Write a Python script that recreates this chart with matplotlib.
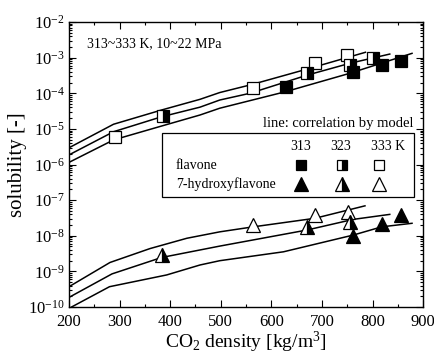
import matplotlib
matplotlib.use("Agg")
import matplotlib.pyplot as plt
import numpy as np
from matplotlib.patches import Rectangle
from matplotlib.ticker import LogLocator, MultipleLocator, LogFormatterSciNotation, NullFormatter

plt.rcParams['font.family'] = ['Liberation Serif', 'DejaVu Serif']
plt.rcParams['mathtext.fontset'] = 'custom'
plt.rcParams['mathtext.rm'] = 'Liberation Serif'
plt.rcParams['mathtext.it'] = 'Liberation Serif:italic'

# ---- data: flavone ----
fl313_x = [629, 762, 818, 856]
fl313_y = [1.47e-4, 4.0e-4, 6.2e-4, 8.0e-4]
fl323_x = [386, 671, 755, 801]
fl323_y = [2.3e-5, 3.6e-4, 6.2e-4, 1.0e-3]
fl333_x = [290, 563, 686, 749]
fl333_y = [5.8e-6, 1.38e-4, 6.9e-4, 1.22e-3]

# ---- data: 7-hydroxyflavone ----
hf313_x = [762, 818, 856]
hf313_y = [1.0e-8, 2.2e-8, 3.8e-8]
hf323_x = [384, 670, 755]
hf323_y = [2.9e-9, 1.8e-8, 2.5e-8]
hf333_x = [564, 686, 751]
hf333_y = [2.0e-8, 3.8e-8, 4.6e-8]

# ---- model correlation lines (log10 values) ----
lf_a_x = [200, 288, 383, 459, 498, 560, 676, 786]
lf_a_log = [-5.53, -4.87, -4.47, -4.17, -3.98, -3.76, -3.30, -2.85]
lf_b_x = [200, 288, 383, 459, 498, 558, 671, 755, 834]
lf_b_log = [-5.73, -5.08, -4.66, -4.39, -4.19, -4.00, -3.49, -3.16, -2.90]
lf_c_x = [200, 288, 383, 459, 498, 627, 755, 878]
lf_c_log = [-5.94, -5.31, -4.92, -4.61, -4.42, -3.96, -3.44, -2.88]

lh_a_x = [200, 281, 360, 433, 498, 564, 686, 785]
lh_a_log = [-9.43, -8.75, -8.36, -8.07, -7.89, -7.75, -7.51, -7.16]
lh_b_x = [200, 285, 383, 498, 670, 762, 834]
lh_b_log = [-9.73, -9.07, -8.61, -8.29, -7.84, -7.54, -7.40]
lh_c_x = [205, 280, 393, 459, 498, 624, 762, 818, 878]
lh_c_log = [-10.0, -9.43, -9.10, -8.82, -8.70, -8.45, -7.98, -7.75, -7.65]

fig = plt.figure(figsize=(4.34, 3.56), dpi=100)
ax = fig.add_axes([0.159, 0.1376, 0.816, 0.8006])

for xs, ls in [(lf_a_x, lf_a_log), (lf_b_x, lf_b_log), (lf_c_x, lf_c_log),
               (lh_a_x, lh_a_log), (lh_b_x, lh_b_log), (lh_c_x, lh_c_log)]:
    ax.plot(xs, 10.0 ** np.array(ls), color='black', lw=1.1, zorder=2)

ms_sq = 8.5
ms_tr = 10
ax.plot(fl333_x, fl333_y, 's', ms=ms_sq, mfc='white', mec='black', mew=0.9, zorder=3)
ax.plot(fl323_x, fl323_y, 's', ms=ms_sq, fillstyle='right', mfc='black', mfcalt='white', mec='black', mew=0.9, zorder=3)
ax.plot(fl313_x, fl313_y, 's', ms=ms_sq, mfc='black', mec='black', mew=0.9, zorder=3)
ax.plot(hf333_x, hf333_y, '^', ms=ms_tr, mfc='white', mec='black', mew=0.9, zorder=3)
ax.plot(hf323_x, hf323_y, '^', ms=ms_tr, fillstyle='right', mfc='black', mfcalt='white', mec='black', mew=0.9, zorder=3)
ax.plot(hf313_x, hf313_y, '^', ms=ms_tr, mfc='black', mec='black', mew=0.9, zorder=3)

ax.set_xlim(200, 900)
ax.set_yscale('log')
ax.set_ylim(1e-10, 1e-2)
ax.xaxis.set_major_locator(MultipleLocator(100))
ax.xaxis.set_minor_locator(MultipleLocator(50))
ax.yaxis.set_major_locator(LogLocator(base=10, numticks=20))
ax.yaxis.set_minor_locator(LogLocator(base=10, subs=np.arange(2, 10), numticks=20))
ax.yaxis.set_minor_formatter(NullFormatter())
ax.yaxis.set_major_formatter(LogFormatterSciNotation())
ax.tick_params(which='both', direction='in', top=True, right=True, labelsize=12, width=0.8)
ax.tick_params(which='major', length=5)
ax.tick_params(which='minor', length=2.5)
ax.tick_params(axis='x', pad=5)
ax.tick_params(axis='y', pad=3)
for s in ax.spines.values():
    s.set_linewidth(1.0)

ax.set_xlabel('CO$_2$ density [kg/m$^3$]', fontsize=14, labelpad=0)
ax.set_ylabel('solubility [-]', fontsize=15, labelpad=1)

ax.text(0.051, 0.925, '313~333 K, 10~22 MPa', transform=ax.transAxes, fontsize=10, va='center', ha='left')
ax.text(0.972, 0.645, 'line: correlation by model', transform=ax.transAxes, fontsize=10.5, va='center', ha='right')

# legend box
ax.add_patch(Rectangle((0.262, 0.387), 0.711, 0.222, transform=ax.transAxes,
                       facecolor='white', edgecolor='black', lw=0.9, zorder=4))
hy = 0.5625
ax.text(0.655, hy, '313', transform=ax.transAxes, fontsize=10, ha='center', va='center', zorder=5)
ax.text(0.766, hy, '323', transform=ax.transAxes, fontsize=10, ha='center', va='center', zorder=5)
ax.text(0.900, hy, '333 K', transform=ax.transAxes, fontsize=10, ha='center', va='center', zorder=5)
r1, r2 = 0.498, 0.432
ax.text(0.302, r1, 'flavone', transform=ax.transAxes, fontsize=10, ha='left', va='center', zorder=5)
ax.text(0.302, r2, '7-hydroxyflavone', transform=ax.transAxes, fontsize=10, ha='left', va='center', zorder=5)
cx = [0.654, 0.770, 0.874]
kw = dict(transform=ax.transAxes, mec='black', mew=0.9, zorder=6, clip_on=False)
ax.plot([cx[0]], [r1], 's', ms=7, mfc='black', **kw)
ax.plot([cx[1]], [r1], 's', ms=7, fillstyle='right', mfc='black', mfcalt='white', **kw)
ax.plot([cx[2]], [r1], 's', ms=7, mfc='white', **kw)
ax.plot([cx[0]], [r2], '^', ms=9.5, mfc='black', **kw)
ax.plot([cx[1]], [r2], '^', ms=9.5, fillstyle='right', mfc='black', mfcalt='white', **kw)
ax.plot([cx[2]], [r2], '^', ms=9.5, mfc='white', **kw)

fig.savefig('out.png', dpi=100)
